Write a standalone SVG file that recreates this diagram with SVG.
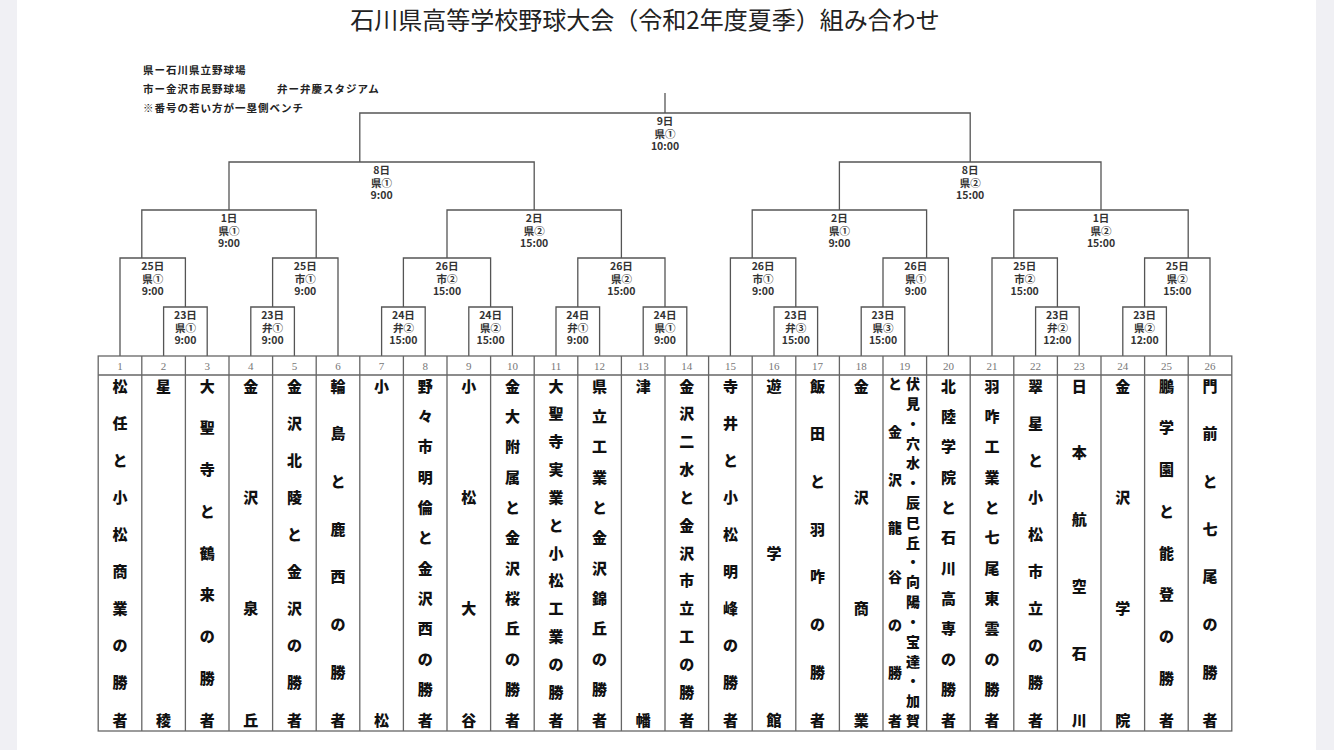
<svg xmlns="http://www.w3.org/2000/svg" width="1334" height="750" viewBox="0 0 1334 750">
<style>
.bg{fill:#ffffff}
.side{fill:#f0f0f4}
.ln{fill:none;stroke:#555;stroke-width:1.3}
.tb{fill:none;stroke:#666;stroke-width:1.3}
.title{font-family:"Noto Sans CJK JP","Noto Sans",sans-serif;font-size:24px;fill:#222;text-anchor:middle;dominant-baseline:central}
.lg{font-family:"Noto Sans CJK JP","Noto Sans",sans-serif;font-size:10.5px;font-weight:700;fill:#222;letter-spacing:1px;dominant-baseline:central}
.lb{font-family:"Noto Sans CJK JP","Noto Sans",sans-serif;font-size:10.5px;font-weight:700;fill:#333;text-anchor:middle;dominant-baseline:central}
.no{font-family:"Liberation Serif",serif;font-size:11px;fill:#777;text-anchor:middle;dominant-baseline:central}
.nm{font-family:"Noto Sans CJK JP","Noto Sans",sans-serif;font-size:15px;font-weight:900;fill:#111;text-anchor:middle;dominant-baseline:central}
.ns{font-family:"Noto Sans CJK JP","Noto Sans",sans-serif;font-size:14px;font-weight:900;fill:#111;text-anchor:middle;dominant-baseline:central}
</style>
<rect class="bg" x="0" y="0" width="1334" height="750"/>
<rect class="side" x="0" y="0" width="17" height="750"/>
<rect class="side" x="1316" y="0" width="18" height="750"/>

<g id="title"><text class="title" x="645" y="18.5">石川県高等学校野球大会（令和2年度夏季）組み合わせ</text></g>
<g id="legend">
<text class="lg" x="143" y="69">県ー石川県立野球場</text>
<text class="lg" x="143" y="88">市ー金沢市民野球場</text>
<text class="lg" x="277" y="88">弁ー弁慶スタジアム</text>
<text class="lg" x="143" y="107">※番号の若い方が一塁側ベンチ</text>
</g>

<g id="connectors">
<path class="ln" d="M665 93V113"/>
<path class="ln" d="M359.8 162V113H970.2V162"/>
<path class="ln" d="M229 210V162H534.2V210"/>
<path class="ln" d="M839.4 210V162H1101V210"/>
<path class="ln" d="M141.8 258V210H316.2V258"/>
<path class="ln" d="M447 258V210H621.4V258"/>
<path class="ln" d="M752.2 258V210H926.6V258"/>
<path class="ln" d="M1013.8 258V210H1188.2V258"/>
<path class="ln" d="M120 356V258H185.4V307"/>
<path class="ln" d="M272.6 307V258H338V356"/>
<path class="ln" d="M403.4 307V258H490.6V307"/>
<path class="ln" d="M577.8 307V258H665V307"/>
<path class="ln" d="M730.4 356V258H795.8V307"/>
<path class="ln" d="M883 307V258H948.4V356"/>
<path class="ln" d="M992 356V258H1057.4V307"/>
<path class="ln" d="M1144.6 307V258H1210V356"/>
<path class="ln" d="M163.6 356V307H207.2V356"/>
<path class="ln" d="M250.8 356V307H294.4V356"/>
<path class="ln" d="M381.6 356V307H425.2V356"/>
<path class="ln" d="M468.8 356V307H512.4V356"/>
<path class="ln" d="M556 356V307H599.6V356"/>
<path class="ln" d="M643.2 356V307H686.8V356"/>
<path class="ln" d="M774 356V307H817.6V356"/>
<path class="ln" d="M861.2 356V307H904.8V356"/>
<path class="ln" d="M1035.6 356V307H1079.2V356"/>
<path class="ln" d="M1122.8 356V307H1166.4V356"/>
</g>

<g id="m-final"><text class="lb" x="665" y="120.5">9日</text><text class="lb" x="665" y="133">県①</text><text class="lb" x="665" y="145.5">10:00</text></g>
<g id="m-sf1"><text class="lb" x="381.6" y="169.5">8日</text><text class="lb" x="381.6" y="182">県①</text><text class="lb" x="381.6" y="194.5">9:00</text></g>
<g id="m-sf2"><text class="lb" x="970.2" y="169.5">8日</text><text class="lb" x="970.2" y="182">県②</text><text class="lb" x="970.2" y="194.5">15:00</text></g>
<g id="m-qf1"><text class="lb" x="229" y="217.5">1日</text><text class="lb" x="229" y="230">県①</text><text class="lb" x="229" y="242.5">9:00</text></g>
<g id="m-qf2"><text class="lb" x="534.2" y="217.5">2日</text><text class="lb" x="534.2" y="230">県②</text><text class="lb" x="534.2" y="242.5">15:00</text></g>
<g id="m-qf3"><text class="lb" x="839.4" y="217.5">2日</text><text class="lb" x="839.4" y="230">県①</text><text class="lb" x="839.4" y="242.5">9:00</text></g>
<g id="m-qf4"><text class="lb" x="1101" y="217.5">1日</text><text class="lb" x="1101" y="230">県②</text><text class="lb" x="1101" y="242.5">15:00</text></g>
<g id="m-r2a"><text class="lb" x="152.7" y="265.5">25日</text><text class="lb" x="152.7" y="278">県①</text><text class="lb" x="152.7" y="290.5">9:00</text></g>
<g id="m-r2b"><text class="lb" x="305.3" y="265.5">25日</text><text class="lb" x="305.3" y="278">市①</text><text class="lb" x="305.3" y="290.5">9:00</text></g>
<g id="m-r2c"><text class="lb" x="447" y="265.5">26日</text><text class="lb" x="447" y="278">市②</text><text class="lb" x="447" y="290.5">15:00</text></g>
<g id="m-r2d"><text class="lb" x="621.4" y="265.5">26日</text><text class="lb" x="621.4" y="278">県②</text><text class="lb" x="621.4" y="290.5">15:00</text></g>
<g id="m-r2e"><text class="lb" x="763.1" y="265.5">26日</text><text class="lb" x="763.1" y="278">市①</text><text class="lb" x="763.1" y="290.5">9:00</text></g>
<g id="m-r2f"><text class="lb" x="915.7" y="265.5">26日</text><text class="lb" x="915.7" y="278">県①</text><text class="lb" x="915.7" y="290.5">9:00</text></g>
<g id="m-r2g"><text class="lb" x="1024.7" y="265.5">25日</text><text class="lb" x="1024.7" y="278">市②</text><text class="lb" x="1024.7" y="290.5">15:00</text></g>
<g id="m-r2h"><text class="lb" x="1177.3" y="265.5">25日</text><text class="lb" x="1177.3" y="278">県②</text><text class="lb" x="1177.3" y="290.5">15:00</text></g>
<g id="m-r1a"><text class="lb" x="185.4" y="314.5">23日</text><text class="lb" x="185.4" y="327">県①</text><text class="lb" x="185.4" y="339.5">9:00</text></g>
<g id="m-r1b"><text class="lb" x="272.6" y="314.5">23日</text><text class="lb" x="272.6" y="327">弁①</text><text class="lb" x="272.6" y="339.5">9:00</text></g>
<g id="m-r1c"><text class="lb" x="403.4" y="314.5">24日</text><text class="lb" x="403.4" y="327">弁②</text><text class="lb" x="403.4" y="339.5">15:00</text></g>
<g id="m-r1d"><text class="lb" x="490.6" y="314.5">24日</text><text class="lb" x="490.6" y="327">県②</text><text class="lb" x="490.6" y="339.5">15:00</text></g>
<g id="m-r1e"><text class="lb" x="577.8" y="314.5">24日</text><text class="lb" x="577.8" y="327">弁①</text><text class="lb" x="577.8" y="339.5">9:00</text></g>
<g id="m-r1f"><text class="lb" x="665" y="314.5">24日</text><text class="lb" x="665" y="327">県①</text><text class="lb" x="665" y="339.5">9:00</text></g>
<g id="m-r1g"><text class="lb" x="795.8" y="314.5">23日</text><text class="lb" x="795.8" y="327">弁③</text><text class="lb" x="795.8" y="339.5">15:00</text></g>
<g id="m-r1h"><text class="lb" x="883" y="314.5">23日</text><text class="lb" x="883" y="327">県③</text><text class="lb" x="883" y="339.5">15:00</text></g>
<g id="m-r1i"><text class="lb" x="1057.4" y="314.5">23日</text><text class="lb" x="1057.4" y="327">弁②</text><text class="lb" x="1057.4" y="339.5">12:00</text></g>
<g id="m-r1j"><text class="lb" x="1144.6" y="314.5">23日</text><text class="lb" x="1144.6" y="327">県②</text><text class="lb" x="1144.6" y="339.5">12:00</text></g>

<g id="table">
<rect class="tb" x="98.2" y="356" width="1133.6" height="375"/>
<path class="tb" d="M98.2 375H1231.8"/>
<path class="tb" d="M141.8 356V731M185.4 356V731M229 356V731M272.6 356V731M316.2 356V731M359.8 356V731M403.4 356V731M447 356V731M490.6 356V731M534.2 356V731M577.8 356V731M621.4 356V731M665 356V731M708.6 356V731M752.2 356V731M795.8 356V731M839.4 356V731M883 356V731M926.6 356V731M970.2 356V731M1013.8 356V731M1057.4 356V731M1101 356V731M1144.6 356V731M1188.2 356V731"/>
</g>

<g id="team-1"><text class="no" x="120" y="366">1</text><text class="nm" x="120 120 120 120 120 120 120 120 120 120" y="385 422.1 459.2 496.3 533.4 570.6 607.7 644.8 681.9 719">松任と小松商業の勝者</text></g>
<g id="team-2"><text class="no" x="163.6" y="366">2</text><text class="nm" x="163.6 163.6" y="385 719">星稜</text></g>
<g id="team-3"><text class="no" x="207.2" y="366">3</text><text class="nm" x="207.2 207.2 207.2 207.2 207.2 207.2 207.2 207.2 207.2" y="385 426.8 468.5 510.3 552 593.8 635.5 677.3 719">大聖寺と鶴来の勝者</text></g>
<g id="team-4"><text class="no" x="250.8" y="366">4</text><text class="nm" x="250.8 250.8 250.8 250.8" y="385 496.3 607.7 719">金沢泉丘</text></g>
<g id="team-5"><text class="no" x="294.4" y="366">5</text><text class="nm" x="294.4 294.4 294.4 294.4 294.4 294.4 294.4 294.4 294.4 294.4" y="385 422.1 459.2 496.3 533.4 570.6 607.7 644.8 681.9 719">金沢北陵と金沢の勝者</text></g>
<g id="team-6"><text class="no" x="338" y="366">6</text><text class="nm" x="338 338 338 338 338 338 338 338" y="385 432.7 480.4 528.1 575.9 623.6 671.3 719">輪島と鹿西の勝者</text></g>
<g id="team-7"><text class="no" x="381.6" y="366">7</text><text class="nm" x="381.6 381.6" y="385 719">小松</text></g>
<g id="team-8"><text class="no" x="425.2" y="366">8</text><text class="nm" x="425.2 425.2 425.2 425.2 425.2 425.2 425.2 425.2 425.2 425.2 425.2 425.2" y="385 415.4 445.7 476.1 506.5 536.8 567.2 597.5 627.9 658.3 688.6 719">野々市明倫と金沢西の勝者</text></g>
<g id="team-9"><text class="no" x="468.8" y="366">9</text><text class="nm" x="468.8 468.8 468.8 468.8" y="385 496.3 607.7 719">小松大谷</text></g>
<g id="team-10"><text class="no" x="512.4" y="366">10</text><text class="nm" x="512.4 512.4 512.4 512.4 512.4 512.4 512.4 512.4 512.4 512.4 512.4 512.4" y="385 415.4 445.7 476.1 506.5 536.8 567.2 597.5 627.9 658.3 688.6 719">金大附属と金沢桜丘の勝者</text></g>
<g id="team-11"><text class="no" x="556" y="366">11</text><text class="nm" x="556 556 556 556 556 556 556 556 556 556 556 556 556" y="385 412.8 440.7 468.5 496.3 524.2 552 579.8 607.7 635.5 663.3 691.2 719">大聖寺実業と小松工業の勝者</text></g>
<g id="team-12"><text class="no" x="599.6" y="366">12</text><text class="nm" x="599.6 599.6 599.6 599.6 599.6 599.6 599.6 599.6 599.6 599.6 599.6 599.6" y="385 415.4 445.7 476.1 506.5 536.8 567.2 597.5 627.9 658.3 688.6 719">県立工業と金沢錦丘の勝者</text></g>
<g id="team-13"><text class="no" x="643.2" y="366">13</text><text class="nm" x="643.2 643.2" y="385 719">津幡</text></g>
<g id="team-14"><text class="no" x="686.8" y="366">14</text><text class="nm" x="686.8 686.8 686.8 686.8 686.8 686.8 686.8 686.8 686.8 686.8 686.8 686.8 686.8" y="385 412.8 440.7 468.5 496.3 524.2 552 579.8 607.7 635.5 663.3 691.2 719">金沢二水と金沢市立工の勝者</text></g>
<g id="team-15"><text class="no" x="730.4" y="366">15</text><text class="nm" x="730.4 730.4 730.4 730.4 730.4 730.4 730.4 730.4 730.4 730.4" y="385 422.1 459.2 496.3 533.4 570.6 607.7 644.8 681.9 719">寺井と小松明峰の勝者</text></g>
<g id="team-16"><text class="no" x="774" y="366">16</text><text class="nm" x="774 774 774" y="385 552 719">遊学館</text></g>
<g id="team-17"><text class="no" x="817.6" y="366">17</text><text class="nm" x="817.6 817.6 817.6 817.6 817.6 817.6 817.6 817.6" y="385 432.7 480.4 528.1 575.9 623.6 671.3 719">飯田と羽咋の勝者</text></g>
<g id="team-18"><text class="no" x="861.2" y="366">18</text><text class="nm" x="861.2 861.2 861.2 861.2" y="385 496.3 607.7 719">金沢商業</text></g>
<g id="team-19"><text class="no" x="904.8" y="366">19</text>
<text class="ns" x="913 913 913 913 913 913 913 913 913 913 913 913 913 913 913 913 913 913" y="383 402.8 422.6 442.5 462.3 482.1 501.9 521.7 541.6 561.4 581.2 601 620.8 640.6 660.5 680.3 700.1 720">伏見・穴水・辰巳丘・向陽・宝達・加賀</text>
<text class="ns" x="895 895 895 895 895 895 895 895" y="383 431.1 479.3 527.4 575.6 623.7 671.9 720">と金沢龍谷の勝者</text></g>
<g id="team-20"><text class="no" x="948.4" y="366">20</text><text class="nm" x="948.4 948.4 948.4 948.4 948.4 948.4 948.4 948.4 948.4 948.4 948.4 948.4" y="385 415.4 445.7 476.1 506.5 536.8 567.2 597.5 627.9 658.3 688.6 719">北陸学院と石川高専の勝者</text></g>
<g id="team-21"><text class="no" x="992" y="366">21</text><text class="nm" x="992 992 992 992 992 992 992 992 992 992 992 992" y="385 415.4 445.7 476.1 506.5 536.8 567.2 597.5 627.9 658.3 688.6 719">羽咋工業と七尾東雲の勝者</text></g>
<g id="team-22"><text class="no" x="1035.6" y="366">22</text><text class="nm" x="1035.6 1035.6 1035.6 1035.6 1035.6 1035.6 1035.6 1035.6 1035.6 1035.6" y="385 422.1 459.2 496.3 533.4 570.6 607.7 644.8 681.9 719">翠星と小松市立の勝者</text></g>
<g id="team-23"><text class="no" x="1079.2" y="366">23</text><text class="nm" x="1079.2 1079.2 1079.2 1079.2 1079.2 1079.2" y="385 451.8 518.6 585.4 652.2 719">日本航空石川</text></g>
<g id="team-24"><text class="no" x="1122.8" y="366">24</text><text class="nm" x="1122.8 1122.8 1122.8 1122.8" y="385 496.3 607.7 719">金沢学院</text></g>
<g id="team-25"><text class="no" x="1166.4" y="366">25</text><text class="nm" x="1166.4 1166.4 1166.4 1166.4 1166.4 1166.4 1166.4 1166.4 1166.4" y="385 426.8 468.5 510.3 552 593.8 635.5 677.3 719">鵬学園と能登の勝者</text></g>
<g id="team-26"><text class="no" x="1210" y="366">26</text><text class="nm" x="1210 1210 1210 1210 1210 1210 1210 1210" y="385 432.7 480.4 528.1 575.9 623.6 671.3 719">門前と七尾の勝者</text></g>
</svg>
